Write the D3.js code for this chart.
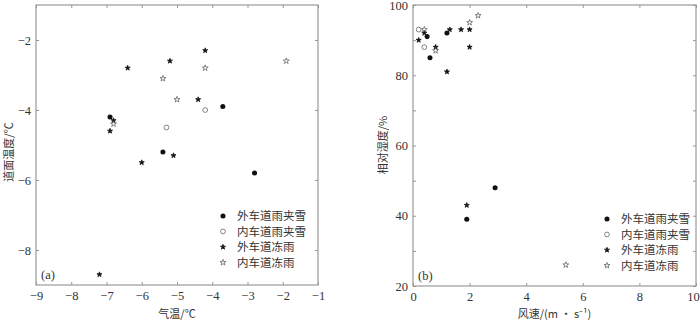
<!DOCTYPE html>
<html>
<head>
<meta charset="utf-8">
<script src="https://cdn.jsdelivr.net/npm/d3@7"></script>
<style>
  body { margin: 0; background: #fff; }
  svg text { fill: #333; }
</style>
</head>
<body>
<div id="container"></div>
<script>
/* CONSTANTS AND GLOBALS */
const width = 700, height = 320;
const serif = "'Liberation Serif', 'DejaVu Serif', serif";
const cjk = "'Noto Sans CJK SC', sans-serif";

// series names (legend)
const seriesNames = ["外车道雨夹雪", "内车道雨夹雪", "外车道冻雨", "内车道冻雨"];

// panel (a): air temperature vs road surface temperature
const outerSleetAir = [-6.9, -3.7, -5.4, -2.8];
const outerSleetRoad = [-4.2, -3.9, -5.2, -5.8];
const innerSleetAir = [-4.2, -5.3];
const innerSleetRoad = [-4.0, -4.5];
const outerFrzAir = [-4.2, -5.2, -6.4, -4.4, -6.8, -6.9, -5.1, -6.0, -7.2];
const outerFrzRoad = [-2.3, -2.6, -2.8, -3.7, -4.3, -4.6, -5.3, -5.5, -8.7];
const innerFrzAir = [-1.9, -4.2, -5.4, -5.0, -6.8];
const innerFrzRoad = [-2.6, -2.8, -3.1, -3.7, -4.4];

// panel (b): wind speed vs relative humidity
const outerSleetWind = [0.5, 0.6, 1.2, 2.9, 1.9];
const outerSleetRH = [91, 85, 92, 48, 39];
const innerSleetWind = [0.2, 0.4];
const innerSleetRH = [93, 88];
const outerFrzWind = [0.2, 0.4, 0.8, 1.3, 1.2, 1.7, 2.0, 2.0, 1.9];
const outerFrzRH = [90, 92, 88, 93, 81, 93, 93, 88, 43];
const innerFrzWind = [0.4, 0.8, 2.0, 2.3, 5.4];
const innerFrzRH = [93, 87, 95, 97, 26];

// ticks
const aXTicks = [-9, -8, -7, -6, -5, -4, -3, -2, -1];
const aYTicks = [-8, -6, -4, -2];
const bXTicks = [0, 2, 4, 6, 8, 10];
const bYTicks = [20, 30, 40, 50, 60, 70, 80, 90, 100];
const bYLabels = [20, 40, 60, 80, 100];

const zip = (xs, ys) => xs.map((x, i) => ({x: x, y: ys[i]}));

const markerStyles = [
  {type: d3.symbolCircle, size: 20, fill: "#111", stroke: "none"},
  {type: d3.symbolCircle, size: 18, fill: "none", stroke: "#666"},
  {type: d3.symbolStar, size: 8, fill: "#111", stroke: "#111"},
  {type: d3.symbolStar, size: 11, fill: "none", stroke: "#666"}
];

const svg = d3.select("#container").append("svg")
  .attr("width", width).attr("height", height);

function panel(opts) {
  const x = d3.scaleLinear().domain(opts.xDomain).range([opts.left, opts.right]);
  const y = d3.scaleLinear().domain(opts.yDomain).range([opts.bottom, opts.top]);
  const g = svg.append("g");
  const tickLen = 3;

  // ticks on all four sides, pointing inward
  const axisBottom = g.append("g").attr("transform", `translate(0,${opts.bottom})`)
    .call(d3.axisBottom(x).tickValues(opts.xTicks).tickSizeInner(-tickLen).tickSizeOuter(0).tickPadding(6));
  const axisTop = g.append("g").attr("transform", `translate(0,${opts.top})`)
    .call(d3.axisTop(x).tickValues(opts.xTicks).tickSizeInner(-tickLen).tickSizeOuter(0).tickFormat(""));
  const axisLeft = g.append("g").attr("transform", `translate(${opts.left},0)`)
    .call(d3.axisLeft(y).tickValues(opts.yTicks).tickSizeInner(-tickLen).tickSizeOuter(0).tickPadding(5)
      .tickFormat(d => opts.yLabels.includes(d) ? d3.format("")(d) : ""));
  const axisRight = g.append("g").attr("transform", `translate(${opts.right},0)`)
    .call(d3.axisRight(y).tickValues(opts.yTicks).tickSizeInner(-tickLen).tickSizeOuter(0).tickFormat(""));

  [axisBottom, axisTop, axisLeft, axisRight].forEach(a => {
    a.select(".domain").remove();
    a.selectAll("line").attr("stroke", "#999");
    a.selectAll("text").attr("font-family", serif).attr("font-size", 12.5).attr("fill", "#333");
  });

  // keep the last x label inside the picture
  if (x(opts.xTicks[opts.xTicks.length - 1]) > width - 8) {
    axisBottom.selectAll(".tick:last-of-type text").attr("dx", -3);
  }

  g.append("rect")
    .attr("x", opts.left).attr("y", opts.top)
    .attr("width", opts.right - opts.left).attr("height", opts.bottom - opts.top)
    .attr("fill", "none").attr("stroke", "#999").attr("stroke-width", 1.2);

  // markers
  opts.series.forEach((s, i) => {
    const st = markerStyles[i];
    g.selectAll(null).data(s).join("path")
      .attr("d", d3.symbol(st.type, st.size))
      .attr("transform", d => `translate(${x(d.x)},${y(d.y)})`)
      .attr("fill", st.fill).attr("stroke", st.stroke).attr("stroke-width", 0.8);
  });

  // legend
  const leg = g.append("g");
  seriesNames.forEach((name, i) => {
    const st = markerStyles[i];
    const yy = opts.legY + i * 15.5;
    leg.append("path")
      .attr("d", d3.symbol(st.type, st.size))
      .attr("transform", `translate(${opts.legX},${yy})`)
      .attr("fill", st.fill).attr("stroke", st.stroke).attr("stroke-width", 0.8);
    leg.append("text")
      .attr("x", opts.legX + 14).attr("y", yy)
      .attr("dy", "0.35em")
      .attr("font-family", cjk).attr("font-size", 11.5)
      .text(name);
  });

  // panel label
  g.append("text")
    .attr("x", opts.left + 5).attr("y", opts.bottom - 6)
    .attr("font-family", serif).attr("font-size", 12.5)
    .text(opts.tag);

  // axis titles
  g.append("text")
    .attr("x", (opts.left + opts.right) / 2).attr("y", 318)
    .attr("text-anchor", "middle")
    .attr("font-family", cjk).attr("font-size", 11)
    .text(opts.xTitle);

  g.append("text")
    .attr("transform", `translate(${opts.yTitleX},${opts.yTitleY}) rotate(-90)`)
    .attr("text-anchor", "middle").attr("dy", "0.35em")
    .attr("font-family", cjk).attr("font-size", 11)
    .text(opts.yTitle);
}

panel({
  left: 36, right: 318, top: 5, bottom: 285,
  xDomain: [-9, -1], yDomain: [-9, -1],
  xTicks: aXTicks, yTicks: aYTicks, yLabels: aYTicks,
  series: [zip(outerSleetAir, outerSleetRoad), zip(innerSleetAir, innerSleetRoad),
           zip(outerFrzAir, outerFrzRoad), zip(innerFrzAir, innerFrzRoad)],
  legX: 223, legY: 216,
  tag: "(a)",
  xTitle: "气温/℃",
  yTitle: "道面温度/℃", yTitleX: 9, yTitleY: 152
});

panel({
  left: 413, right: 696, top: 5, bottom: 286,
  xDomain: [0, 10], yDomain: [20, 100],
  xTicks: bXTicks, yTicks: bYTicks, yLabels: bYLabels,
  series: [zip(outerSleetWind, outerSleetRH), zip(innerSleetWind, innerSleetRH),
           zip(outerFrzWind, outerFrzRH), zip(innerFrzWind, innerFrzRH)],
  legX: 607, legY: 219,
  tag: "(b)",
  xTitle: "风速/(m · s⁻¹)",
  yTitle: "相对湿度/%", yTitleX: 383, yTitleY: 145
});
</script>
</body>
</html>
